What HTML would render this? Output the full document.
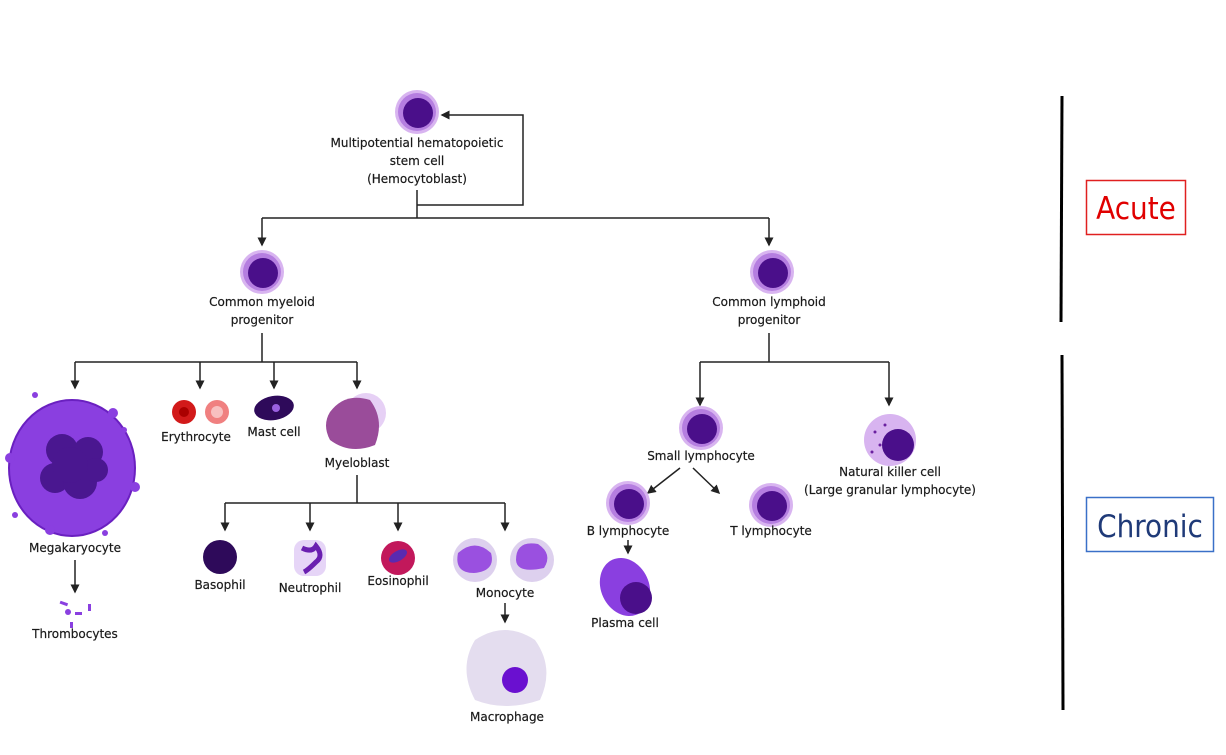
<!DOCTYPE html>
<html><head><style>
html,body{margin:0;padding:0;background:#fff;}
svg text{font-family:"DejaVu Sans","Liberation Sans",sans-serif;font-size:12px;fill:#1a1a1a;text-anchor:middle;stroke:#1a1a1a;stroke-width:0.2px;}
</style></head><body>
<svg width="1226" height="750" viewBox="0 0 1226 750" xmlns="http://www.w3.org/2000/svg">
<defs>
<marker id="a" markerWidth="6" markerHeight="6" refX="5" refY="3" orient="auto"><path d="M0,0 L6,3 L0,6 z" fill="#222"/></marker>
<g id="cell"><circle r="22" fill="#d8b4f0"/><circle r="19" fill="#b57ee0"/><circle cx="1" cy="1" r="15" fill="#4a0f8a"/></g>
</defs>
<g stroke="#222" stroke-width="1.5" fill="none">
<path d="M417 190 V218"/>
<path d="M417 205 H523 V115 H442" marker-end="url(#a)"/>
<path d="M262 218 H769"/>
<path d="M262 218 V245" marker-end="url(#a)"/>
<path d="M769 218 V245" marker-end="url(#a)"/>
<path d="M262 333 V362 M75 362 H357"/>
<path d="M75 362 V388" marker-end="url(#a)"/><path d="M200 362 V388" marker-end="url(#a)"/>
<path d="M274 362 V388" marker-end="url(#a)"/><path d="M357 362 V388" marker-end="url(#a)"/>
<path d="M769 333 V362 M700 362 H889"/>
<path d="M700 362 V405" marker-end="url(#a)"/><path d="M889 362 V405" marker-end="url(#a)"/>
<path d="M75 560 V592" marker-end="url(#a)"/>
<path d="M357 475 V503 M225 503 H505"/>
<path d="M225 503 V530" marker-end="url(#a)"/><path d="M310 503 V530" marker-end="url(#a)"/>
<path d="M398 503 V530" marker-end="url(#a)"/><path d="M505 503 V530" marker-end="url(#a)"/>
<path d="M505 603 V622" marker-end="url(#a)"/>
<path d="M680 468 L648 493" marker-end="url(#a)"/><path d="M693 468 L719 493" marker-end="url(#a)"/>
<path d="M628 540 V553" marker-end="url(#a)"/>
</g>
<use href="#cell" x="417" y="112"/>
<use href="#cell" x="262" y="272"/>
<use href="#cell" x="772" y="272"/>
<use href="#cell" x="701" y="428"/>
<use href="#cell" x="628" y="503"/>
<use href="#cell" x="771" y="505"/>
<!-- megakaryocyte -->
<ellipse cx="72" cy="468" rx="63" ry="68" fill="#8a3fe0" stroke="#6a20c0" stroke-width="2"/>
<g fill="#8a3fe0"><circle cx="10" cy="458" r="5"/><circle cx="135" cy="487" r="5"/><circle cx="113" cy="413" r="5"/><circle cx="50" cy="530" r="5"/><circle cx="35" cy="395" r="3"/><circle cx="124" cy="430" r="3"/><circle cx="15" cy="515" r="3"/><circle cx="105" cy="533" r="3"/></g>
<g fill="#4a1790"><circle cx="62" cy="450" r="16"/><circle cx="88" cy="452" r="15"/><circle cx="55" cy="478" r="15"/><circle cx="80" cy="482" r="17"/><circle cx="96" cy="470" r="12"/><circle cx="70" cy="465" r="18"/></g>
<g fill="#8a3fe0"><rect x="60" y="602" width="8" height="3" transform="rotate(20 64 603)"/><rect x="75" y="612" width="7" height="3"/><rect x="88" y="604" width="3" height="7"/><rect x="70" y="622" width="3" height="6"/><circle cx="68" cy="612" r="3"/></g>
<!-- erythrocyte -->
<circle cx="184" cy="412" r="12" fill="#d21a1a"/><circle cx="184" cy="412" r="5" fill="#a00"/>
<circle cx="217" cy="412" r="12" fill="#f08080"/><circle cx="217" cy="412" r="6" fill="#f8c0c0"/>
<ellipse cx="274" cy="408" rx="20" ry="12" fill="#2e0a5a" transform="rotate(-10 274 408)"/><circle cx="276" cy="408" r="4" fill="#9a60e0"/>
<!-- myeloblast -->
<circle cx="366" cy="413" r="20" fill="#e6d0f5"/>
<path d="M330 412 Q345 392 370 400 Q385 420 375 445 Q350 455 330 440 Q322 425 330 412z" fill="#9a4c9a"/>
<!-- granulocytes -->
<circle cx="220" cy="557" r="17" fill="#2e0a5a"/>
<rect x="294" y="540" width="32" height="36" rx="10" fill="#e6d5f7"/><path d="M302 548 q10 5 14 -2 q8 10 0 16 q-8 8 -12 10" stroke="#6a1fb0" stroke-width="5" fill="none"/>
<circle cx="398" cy="558" r="17" fill="#c2185b"/><ellipse cx="398" cy="556" rx="10" ry="5" fill="#5a2ab0" transform="rotate(-30 398 556)"/>
<circle cx="475" cy="560" r="22" fill="#ddd0ee"/><path d="M458 553 q17 -15 33 0 q5 18 -17 20 q-20 0 -16 -20z" fill="#9a50e0"/>
<circle cx="532" cy="560" r="22" fill="#ddd0ee"/><path d="M516 560 q0 -20 22 -16 q15 10 6 24 q-27 6 -28 -8z" fill="#9a50e0"/>
<path d="M475 640 Q505 620 535 640 Q555 668 540 700 Q505 712 475 700 Q458 668 475 640z" fill="#e4ddef"/>
<circle cx="515" cy="680" r="13" fill="#6a10d0"/>
<!-- plasma -->
<ellipse cx="625" cy="587" rx="24" ry="30" fill="#8a3fe0" transform="rotate(-25 625 587)"/><circle cx="636" cy="598" r="16" fill="#4a0f8a"/>
<!-- NK -->
<circle cx="890" cy="440" r="26" fill="#d8b4f0"/><circle cx="898" cy="445" r="16" fill="#4a0f8a"/>
<g fill="#6a20a0"><circle cx="875" cy="432" r="1.5"/><circle cx="880" cy="445" r="1.5"/><circle cx="872" cy="452" r="1.5"/><circle cx="885" cy="425" r="1.5"/></g>
<!-- labels -->
<text x="417" y="147">Multipotential hematopoietic</text>
<text x="417" y="165">stem cell</text>
<text x="417" y="183">(Hemocytoblast)</text>
<text x="262" y="306">Common myeloid</text><text x="262" y="324">progenitor</text>
<text x="769" y="306">Common lymphoid</text><text x="769" y="324">progenitor</text>
<text x="196" y="441">Erythrocyte</text><text x="274" y="436">Mast cell</text><text x="357" y="467">Myeloblast</text>
<text x="75" y="552">Megakaryocyte</text><text x="75" y="638">Thrombocytes</text>
<text x="220" y="589">Basophil</text><text x="310" y="592">Neutrophil</text><text x="398" y="585">Eosinophil</text>
<text x="505" y="597">Monocyte</text><text x="507" y="721">Macrophage</text>
<text x="701" y="460">Small lymphocyte</text><text x="628" y="535">B lymphocyte</text>
<text x="771" y="535">T lymphocyte</text><text x="625" y="627">Plasma cell</text>
<text x="890" y="476">Natural killer cell</text><text x="890" y="494">(Large granular lymphocyte)</text>
<!-- right side -->
<line x1="1062" y1="96" x2="1061" y2="322" stroke="#000" stroke-width="3"/>
<line x1="1062" y1="355" x2="1063" y2="710" stroke="#000" stroke-width="3"/>
<rect x="1086.5" y="180.5" width="99" height="54" fill="none" stroke="#e02020" stroke-width="1.5"/>
<text x="1136" y="219" style="font-size:31px;fill:#e00000;stroke:none;font-family:'DejaVu Sans Condensed','DejaVu Sans',sans-serif">Acute</text>
<rect x="1086.5" y="497.5" width="127" height="54" fill="none" stroke="#3a70c8" stroke-width="1.5"/>
<text x="1150" y="537" style="font-size:31px;fill:#1f3a78;stroke:none;font-family:'DejaVu Sans Condensed','DejaVu Sans',sans-serif">Chronic</text>
</svg>
</body></html>
